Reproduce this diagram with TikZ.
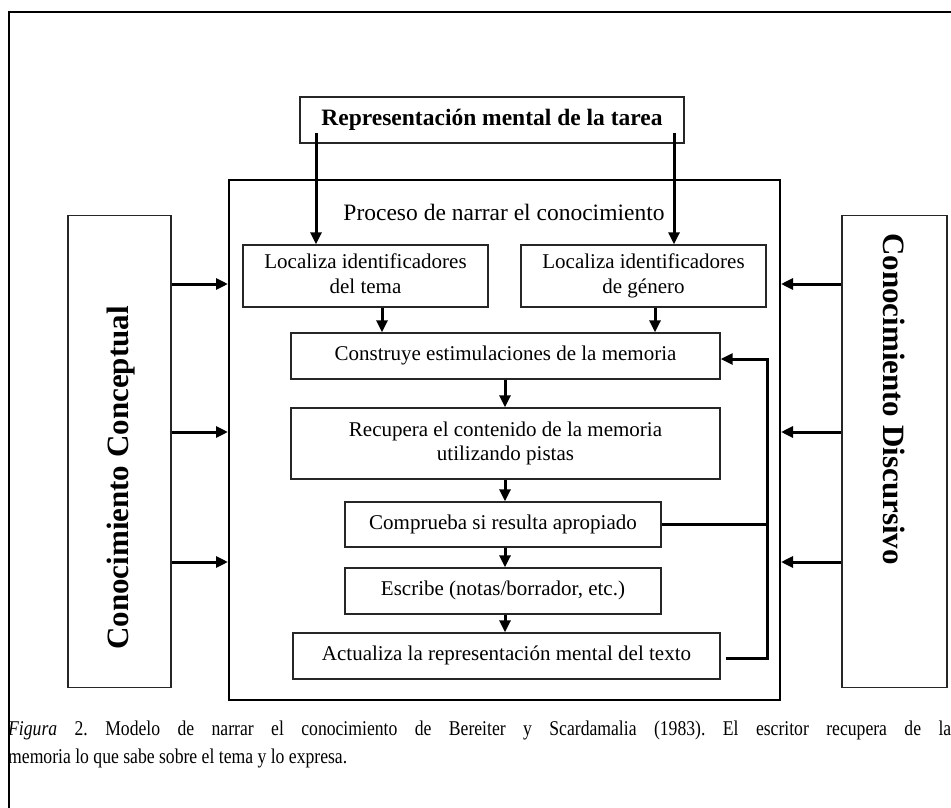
\documentclass[tikz,border=0pt]{standalone}
\usepackage{fontspec}
\setmainfont{Liberation Serif}
\newfontfamily\capfont[FakeStretch=0.84]{Liberation Serif}
\usetikzlibrary{arrows.meta,positioning}

\tikzset{
  box/.style={draw=black!85, line width=1.4pt, inner sep=0pt, align=center,
    font=\fontsize{21}{24.5}\selectfont},
  frame/.style={draw=black, line width=2pt},
  arr/.style={line width=3pt, -{Triangle[length=12pt,width=11pt]}},
  link/.style={line width=3pt},
  sidelabel/.style={font=\bfseries\fontsize{31}{35}\selectfont, inner sep=0pt, anchor=west},
  captext/.style={anchor=base west, inner sep=0pt,
    font=\capfont\fontsize{21}{24}\selectfont\frenchspacing}
}

\begin{document}
\begin{tikzpicture}[x=1pt,y=-1pt]
  \useasboundingbox (0,0) rectangle (951,808);
  \clip (0,0) rectangle (951,808);

  % outer frame (runs past the page on the right and bottom)
  \draw[frame] (9,830) -- (9,12) -- (970,12);

  % task representation
  \node[box, minimum width=384pt, minimum height=46pt,
        font=\bfseries\fontsize{23.5}{27}\selectfont] (top) at (492,120)
        {Representación mental de la tarea};

  % process container
  \node[draw=black, line width=2pt, minimum width=551pt, minimum height=520pt,
        inner sep=0pt] (proc) at (504.5,440) {};
  \node[font=\fontsize{23.5}{27}\selectfont, inner sep=0pt] (ptitle) at (504,212)
        {Proceso de narrar el conocimiento};

  % knowledge stores; the labels start near one end of their boxes
  \node[box, line width=1.8pt, minimum width=103pt, minimum height=472pt] (concept) at (119.5,451.5) {};
  \node[sidelabel, rotate=90] (conceptlbl) at (121,650) {Conocimiento Conceptual};
  \node[box, line width=1.8pt, minimum width=105pt, minimum height=472pt] (discur) at (894.5,451.5) {};
  \node[sidelabel, rotate=-90] (discurlbl) at (894,233) {Conocimiento Discursivo};

  % process steps
  \node[box, minimum width=245pt, minimum height=62pt] (loc1) at (365.5,276)
        {\strut Localiza identificadores\\del tema\strut};
  \node[box, minimum width=245pt, minimum height=62pt] (loc2) at (643.5,276)
        {\strut Localiza identificadores\\de género\strut};
  \node[box, minimum width=429pt, minimum height=46pt] (cons) at (505.5,356)
        {\strut Construye estimulaciones de la memoria};
  \node[box, minimum width=429pt, minimum height=71pt] (recu) at (505.5,443.5)
        {\strut Recupera el contenido de la memoria\\utilizando pistas\strut};
  \node[box, minimum width=316pt, minimum height=45pt] (comp) at (503,524.5)
        {\strut Comprueba si resulta apropiado};
  \node[box, minimum width=316pt, minimum height=46pt] (escr) at (503,591)
        {\strut Escribe (notas/borrador, etc.)};
  \node[box, minimum width=427pt, minimum height=46pt] (actu) at (506.5,656)
        {\strut Actualiza la representación mental del texto};

  % task representation feeds both locators
  \coordinate (t1) at (316,133);
  \coordinate (t2) at (674,133);
  \draw[arr] (t1) -- (t1 |- loc1.north);
  \draw[arr] (t2) -- (t2 |- loc2.north);

  % main flow
  \draw[arr] (loc1.south -| 382,0) -- (cons.north -| 382,0);
  \draw[arr] (loc2.south -| 655,0) -- (cons.north -| 655,0);
  \draw[arr] (cons.south -| 505,0) -- (recu.north -| 505,0);
  \draw[arr] (recu.south -| 505,0) -- (comp.north -| 505,0);
  \draw[arr] (comp.south -| 505,0) -- (escr.north -| 505,0);
  \draw[arr] (escr.south -| 505,0) -- (actu.north -| 505,0);

  % feedback loop
  \coordinate (fb) at (767,658);
  \draw[arr] ([xshift=5pt]actu.east |- fb) -- (fb) -- (fb |- 0,359) -- (cons.east |- 0,359);
  \draw[link] (comp.east) -- (comp.east -| fb);

  % knowledge inputs
  \foreach \yy in {284,432,562} {
    \draw[arr] (concept.east |- 0,\yy) -- (proc.west |- 0,\yy);
    \draw[arr] (discur.west |- 0,\yy) -- (proc.east |- 0,\yy);
  }

  % caption
  \node[captext] (cap1) at (8,735)
    {\makebox[943pt][s]{\textit{Figura} 2. Modelo de narrar el conocimiento de Bereiter y Scardamalia (1983). El escritor recupera de la}};
  \node[captext] (cap2) at (8,763)
    {memoria lo que sabe sobre el tema y lo expresa.};
\end{tikzpicture}
\end{document}
